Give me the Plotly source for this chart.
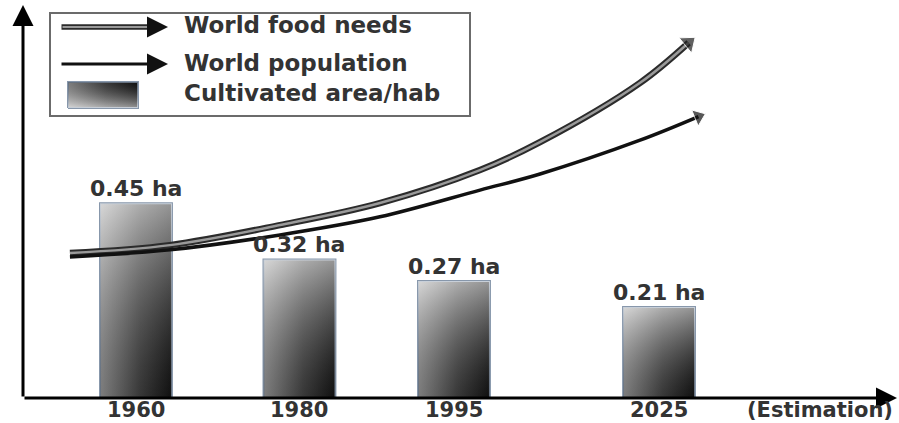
import plotly.graph_objects as go

# ---- data -------------------------------------------------------------
years = ["1960", "1980", "1995", "2025"]
area_ha = [0.45, 0.32, 0.27, 0.21]          # cultivated area per inhabitant (ha)

# trend curves: position along the time axis (bar-slot units) and relative index
food_t = [-0.404, 0.208, 0.881, 1.492, 2.104, 2.471, 3.083, 3.38]
food_needs = [36.9, 38.9, 44.0, 49.6, 58.0, 65.1, 80.2, 90.4]
pop_t = [-0.404, 0.208, 0.881, 1.492, 2.104, 2.471, 3.083, 3.44]
population = [35.9, 37.7, 41.5, 46.1, 52.9, 57.0, 65.6, 71.6]

legend_labels = ["World food needs", "World population", "Cultivated area/hab"]
estimation_label = "(Estimation)"

# ---- layout constants -------------------------------------------------
W, H = 899, 423
ML, MR, MT, MB = 23, 6, 5, 25
PW, PH = W - ML - MR, H - MT - MB
SLOT_X = [0.0, 1.0, 1.945, 3.199]   # bar slots (time axis is not to scale)
BAR_W = 0.44
X_RANGE = [-0.691, 4.630]
Y_RANGE = [0, PH / 433.0]

FONT = "DejaVu Sans"
TXT = "#333333"
BAR_EDGE = "#8797ab"
H_SHADE = [[0, "#a8a8a8"], [0.55, "#4a4a4a"], [1, "#141414"]]
LABEL_Y = 410   # centre line of the year labels below the axis (px)


def fx(px):
    return (px - ML) / PW


def fy(py):
    return (H - MB - py) / PH


fig = go.Figure()

# gradient-filled bars (horizontal shade + vertical highlight overlay)
for s, v in zip(SLOT_X, area_ha):
    xs = [s - BAR_W / 2, s + BAR_W / 2, s + BAR_W / 2, s - BAR_W / 2, s - BAR_W / 2]
    ys = [0, 0, v, v, 0]
    fig.add_trace(go.Scatter(
        x=xs, y=ys, mode="lines", fill="toself",
        fillgradient=dict(type="horizontal", colorscale=H_SHADE),
        line=dict(color=BAR_EDGE, width=2), hoverinfo="skip", showlegend=False))
    fig.add_trace(go.Scatter(
        x=xs, y=ys, mode="lines", fill="toself",
        fillgradient=dict(type="vertical",
                          colorscale=[[0, "rgba(0,0,0,0.25)"], [1, "rgba(255,255,255,0.55)"]]),
        line=dict(width=0), hoverinfo="skip", showlegend=False))
    fig.add_annotation(x=s, y=v, xref="x", yref="y", text=f"{v:.2f} ha",
                       showarrow=False, yanchor="bottom", yshift=0,
                       font=dict(family=FONT, size=22, color=TXT, weight="bold"))

# year labels under each bar
for s, yr in zip(SLOT_X, years):
    fig.add_annotation(x=s, y=fy(LABEL_Y), xref="x", yref="paper", text=yr,
                       showarrow=False, xanchor="center", yanchor="middle",
                       font=dict(family=FONT, size=21, color=TXT, weight="bold"))

# world food needs: grey core with a dark outline
fig.add_trace(go.Scatter(x=food_t, y=food_needs, yaxis="y2", mode="lines",
                         line=dict(color="#2b2b2b", width=6.5, shape="spline"),
                         hoverinfo="skip", showlegend=False))
fig.add_trace(go.Scatter(x=food_t, y=food_needs, yaxis="y2", mode="lines",
                         line=dict(color="#9a9a9a", width=2.5, shape="spline"),
                         hoverinfo="skip", showlegend=False))
fig.add_trace(go.Scatter(x=food_t[-2:], y=food_needs[-2:], yaxis="y2", mode="markers",
                         marker=dict(symbol="triangle-up", angleref="previous", size=[0, 17],
                                     color="#1e1e1e"),
                         hoverinfo="skip", showlegend=False))

# world population
fig.add_trace(go.Scatter(x=pop_t, y=population, yaxis="y2", mode="lines",
                         line=dict(color="#111111", width=3.5, shape="spline"),
                         hoverinfo="skip", showlegend=False))
fig.add_trace(go.Scatter(x=pop_t[-2:], y=population[-2:], yaxis="y2", mode="markers",
                         marker=dict(symbol="triangle-up", angleref="previous", size=[0, 15],
                                     color="#111111"),
                         hoverinfo="skip", showlegend=False))

# ---- legend drawn on a pixel-space overlay (x2 / y3) -------------------
fig.add_shape(type="rect", xref="x2", yref="y3", x0=50, x1=470, y0=13, y1=116,
              line=dict(color="#6b6b6b", width=2), fillcolor="white", layer="below")

# food needs key: outlined shaft + black head
fig.add_annotation(xref="x2", yref="y3", axref="x2", ayref="y3",
                   x=156, y=27, ax=60, ay=27, text="", showarrow=True,
                   arrowhead=0, arrowwidth=5.5, arrowcolor="#2b2b2b")
fig.add_annotation(xref="x2", yref="y3", axref="x2", ayref="y3",
                   x=155, y=27, ax=61, ay=27, text="", showarrow=True,
                   arrowhead=0, arrowwidth=2, arrowcolor="#9a9a9a")
fig.add_annotation(xref="x2", yref="y3", axref="x2", ayref="y3",
                   x=168, y=27, ax=150, ay=27, text="", showarrow=True,
                   arrowhead=2, arrowsize=1.4, arrowwidth=3, arrowcolor="#111111")
# population key
fig.add_annotation(xref="x2", yref="y3", axref="x2", ayref="y3",
                   x=168, y=64, ax=60, ay=64, text="", showarrow=True,
                   arrowhead=2, arrowsize=1.4, arrowwidth=3, arrowcolor="#111111")
# cultivated area key
sx = [68, 138, 138, 68, 68]
sy = [108, 108, 82, 82, 108]
fig.add_trace(go.Scatter(x=sx, y=sy, xaxis="x2", yaxis="y3", mode="lines", fill="toself",
                         fillgradient=dict(type="horizontal", colorscale=H_SHADE),
                         line=dict(color=BAR_EDGE, width=2), hoverinfo="skip", showlegend=False))
fig.add_trace(go.Scatter(x=sx, y=sy, xaxis="x2", yaxis="y3", mode="lines", fill="toself",
                         fillgradient=dict(type="vertical",
                                           colorscale=[[0, "rgba(255,255,255,0.55)"], [1, "rgba(0,0,0,0.25)"]]),
                         line=dict(width=0), hoverinfo="skip", showlegend=False))

for label, ypx in zip(legend_labels, [25, 63, 93]):
    fig.add_annotation(xref="x2", yref="y3", x=182, y=ypx, text=label, showarrow=False,
                       xanchor="left", yanchor="middle",
                       font=dict(family=FONT, size=23, color=TXT, weight="bold"))

# ---- axes drawn as arrows ---------------------------------------------
fig.add_annotation(xref="paper", yref="paper", x=fx(897), y=0, ax=-(897 - ML), ay=0,
                   text="", showarrow=True, arrowhead=2, arrowsize=1.4, arrowwidth=3,
                   arrowcolor="#000000")
fig.add_annotation(xref="paper", yref="paper", x=0, y=fy(5), ax=0, ay=(H - MB - 5),
                   text="", showarrow=True, arrowhead=2, arrowsize=1.4, arrowwidth=3,
                   arrowcolor="#000000")
fig.add_annotation(xref="paper", yref="paper", x=fx(820), y=fy(LABEL_Y), text=estimation_label,
                   showarrow=False, xanchor="center", yanchor="middle",
                   font=dict(family=FONT, size=21, color=TXT, weight="bold"))

fig.update_layout(
    width=W, height=H,
    margin=dict(l=ML, r=MR, t=MT, b=MB, autoexpand=False),
    paper_bgcolor="white", plot_bgcolor="white",
    showlegend=False,
    xaxis=dict(range=X_RANGE, showgrid=False, zeroline=False, showline=False,
               showticklabels=False, ticks="", automargin=False, fixedrange=True),
    yaxis=dict(range=Y_RANGE, visible=False, fixedrange=True, automargin=False),
    yaxis2=dict(range=[0, 100], overlaying="y", visible=False, fixedrange=True),
    xaxis2=dict(range=[ML, ML + PW], overlaying="x", visible=False, fixedrange=True),
    yaxis3=dict(range=[H - MB, MT], overlaying="y", anchor="x2", visible=False,
                fixedrange=True),
)

fig.write_html("out.html")
